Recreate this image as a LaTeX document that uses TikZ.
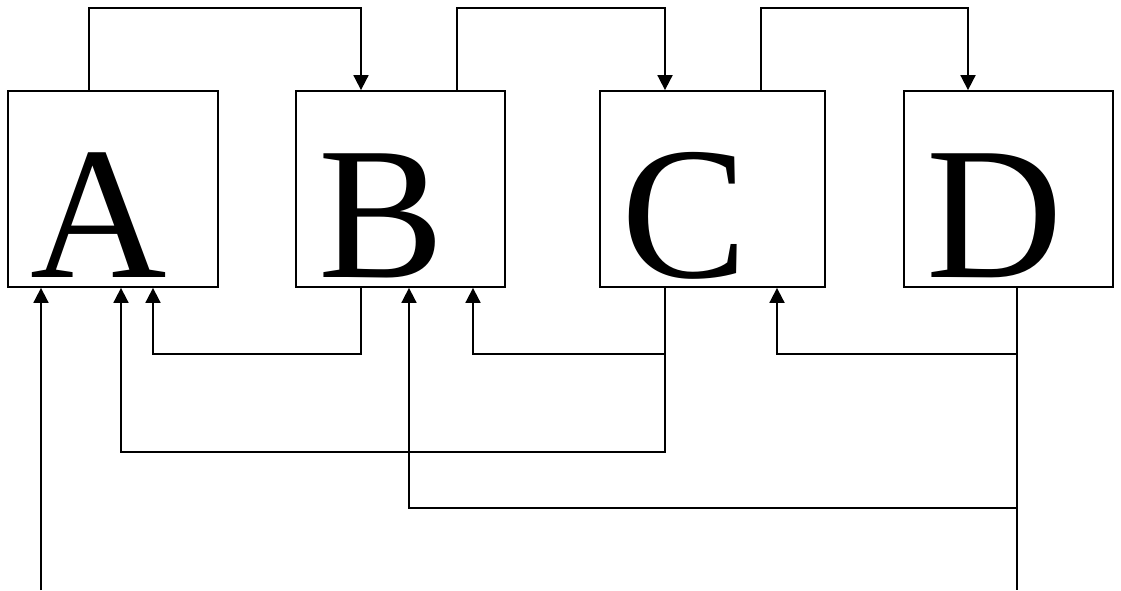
\documentclass[tikz,border=0pt]{standalone}
\usepackage{fontspec}
\newfontfamily\letterfont{Liberation Serif}
\usetikzlibrary{arrows.meta}
\tikzset{
  block/.style={draw, line width=1.8pt, minimum height=196pt, inner sep=0pt},
  letter/.style={anchor=base, inner sep=0pt, font=\letterfont\fontsize{189}{189}\selectfont},
  wire/.style={line width=1.8pt},
  arr/.style={wire, -{Triangle[width=15pt,length=15pt]}}
}
\begin{document}
\begin{tikzpicture}[x=1pt,y=-1pt]
  \useasboundingbox (0,0) rectangle (1121,590);
  % the four blocks
  \node[block, minimum width=210pt] (A) at (113,189) {};
  \node[block, minimum width=209pt] (B) at (400.5,189) {};
  \node[block, minimum width=225pt] (C) at (712.5,189) {};
  \node[block, minimum width=209pt] (D) at (1008.5,189) {};
  % block letters
  \node[letter] (lA) at (99,277) {A};
  \node[letter] (lB) at (382,277) {B};
  \node[letter] (lC) at (685,277) {C};
  \node[letter] (lD) at (995,277) {D};
  % feed-forward links over the top
  \draw[arr] (89,0 |- A.north) |- (361,8) -- (361,0 |- B.north);
  \draw[arr] (457,0 |- B.north) |- (665,8) -- (665,0 |- C.north);
  \draw[arr] (761,0 |- C.north) |- (968,8) -- (968,0 |- D.north);
  % feedback links underneath
  \draw[arr] (361,0 |- B.south) |- (153,354) -- (153,0 |- A.south);
  \draw[arr] (665,0 |- C.south) |- (473,354) -- (473,0 |- B.south);
  \draw[arr] (665,0 |- C.south) |- (121,452) -- (121,0 |- A.south);
  \draw[arr] (1017,0 |- D.south) |- (777,354) -- (777,0 |- C.south);
  \draw[arr] (1017,0 |- D.south) |- (409,508) -- (409,0 |- B.south);
  % external input and output
  \coordinate (in) at (41,590);
  \coordinate (out) at (1017,590);
  \draw[arr] (in) -- (41,0 |- A.south);
  \draw[wire] (1017,0 |- D.south) -- (out);
\end{tikzpicture}
\end{document}
